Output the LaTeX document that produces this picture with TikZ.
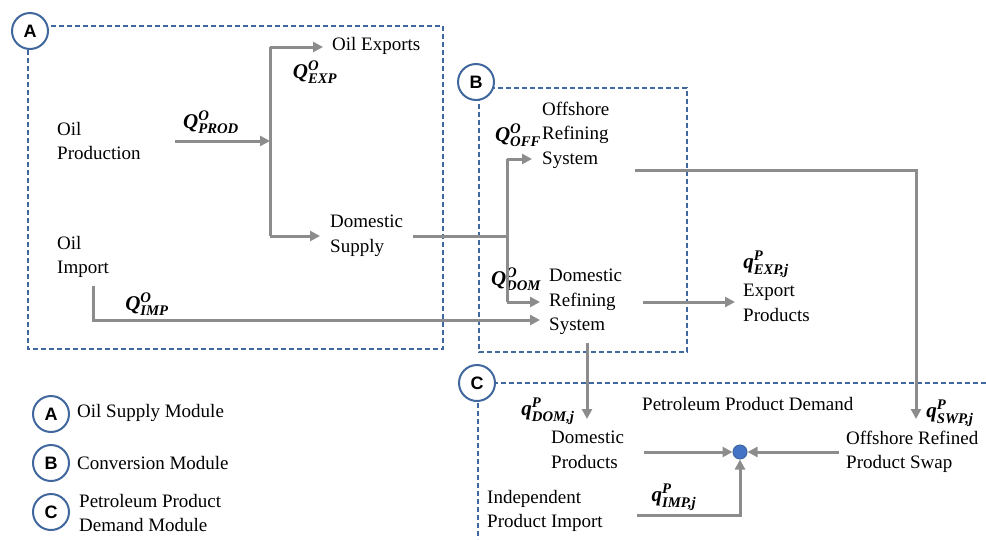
\documentclass[tikz,border=0pt]{standalone}
\usepackage{fontspec}
\usepackage{amsmath}
\setmainfont{Liberation Serif}
\newfontfamily\lettfont{Liberation Sans}
\usetikzlibrary{arrows.meta}
\definecolor{boxblue}{HTML}{41689E}
\definecolor{arrgray}{HTML}{8C8C8C}
\definecolor{dotblue}{HTML}{4472C4}
\newcommand\bi[1]{\text{\bfseries\itshape #1}}
\newcommand\qq[3]{$\bi{#1}^{\bi{#2}}_{\bi{#3}}$}
\tikzset{
 txt/.style={font=\fontsize{19}{24.5}\selectfont, align=left, anchor=west, inner sep=0pt},
 qlab/.style={font=\fontsize{21}{24}\selectfont, inner sep=0pt},
 arr/.style={draw=arrgray, line width=3pt, -{Triangle[length=10pt,width=10pt]}},
 ln/.style={draw=arrgray, line width=3pt},
 modbox/.style={draw=boxblue, line width=1.5pt, dash pattern=on 5pt off 3pt},
 badge/.style={circle, draw=boxblue, line width=2pt, fill=white, minimum size=36pt, inner sep=0pt, font=\lettfont\bfseries\fontsize{18}{18}\selectfont},
}
\begin{document}
\begin{tikzpicture}[x=1pt,y=-1pt]
\useasboundingbox (0,0) rectangle (986,539);
% module boxes
\draw[modbox] (28,26) rectangle (443,349);
\draw[modbox] (479,88) rectangle (687,352);
\draw[modbox] (986,383) -- (478,383) -- (478,539);
\node[badge] (bA) at (30,31) {A};
\node[badge] (bB) at (476,82) {B};
\node[badge] (bC) at (477,383) {C};
% legend
\node[badge] (lA) at (51,414) {A};
\node[badge] (lB) at (51,463) {B};
\node[badge] (lC) at (51,512) {C};
\node[txt] (tA) at (77,413) {Oil Supply Module};
\node[txt] (tB) at (77,463) {Conversion Module};
\node[txt] (tC) at (79,513) {Petroleum Product\\Demand Module};
% text nodes
\node[txt] (prod) at (57,141) {Oil\\Production};
\node[txt] (exports) at (332,46) {Oil Exports};
\node[txt] (supply) at (330,236) {Domestic\\Supply};
\node[txt] (import) at (57,257) {Oil\\Import};
\node[txt] (offref) at (542,135) {Offshore\\Refining\\System};
\node[txt] (domref) at (549,302) {Domestic\\Refining\\System};
\node[txt] (expprod) at (743,303) {Export\\Products};
\node[txt] (petdem) at (642,404) {Petroleum Product Demand};
\node[txt] (domprod) at (551,450) {Domestic\\Products};
\node[txt] (swap) at (846,452) {Offshore Refined\\Product Swap};
\node[txt] (indimp) at (487,511) {Independent\\Product Import};
% flow labels
\node[qlab] (qprod) at (211,122) {\qq{Q}{O}{PROD}};
\node[qlab] (qexp) at (315,72) {\qq{Q}{O}{EXP}};
\node[qlab] (qimp) at (147,304) {\qq{Q}{O}{IMP}};
\node[qlab] (qoff) at (518,135) {\qq{Q}{O}{OFF}};
\node[qlab] (qdom) at (516,279) {\qq{Q}{O}{DOM}};
\node[qlab] (qexpj) at (766,264) {\qq{q}{P}{EXP,j}};
\node[qlab] (qdomj) at (548,411) {\qq{q}{P}{DOM,j}};
\node[qlab] (qswpj) at (950,413) {\qq{q}{P}{SWP,j}};
\node[qlab] (qimpj) at (674,497) {\qq{q}{P}{IMP,j}};
% junction dot
\node[circle, fill=dotblue, draw=boxblue, line width=1pt, minimum size=14pt, inner sep=0pt] (dot) at (740,452) {};
% coordinates
\coordinate (p1) at (175,141);
\coordinate (j1) at (270,141);
\coordinate (jt) at (270,47);
\coordinate (jb) at (270,236);
\coordinate (ex) at (323,47);
\coordinate (ds) at (320,236);
\coordinate (s1) at (413,236);
\coordinate (s2) at (507,236);
\coordinate (s3) at (507,159);
\coordinate (s4) at (532,159);
\coordinate (s5) at (507,302);
\coordinate (s6) at (540,302);
\coordinate (i1) at (93,286);
\coordinate (i2) at (93,320);
\coordinate (i3) at (540,320);
\coordinate (o1) at (635,170);
\coordinate (o2) at (916,170);
\coordinate (o3) at (916,419);
\coordinate (d1) at (643,302);
\coordinate (d2) at (735,302);
\coordinate (d3) at (587,343);
\coordinate (d4) at (587,419);
\coordinate (c1) at (644,452);
\coordinate (c2) at (839,452);
\coordinate (c3) at (637,515);
\coordinate (c4) at (740,515);
% connectors
\draw[arr] (p1) -- (j1);
\draw[ln] (jb) -- (jt);
\draw[arr] (jt) -- (ex);
\draw[arr] (jb) -- (ds);
\draw[ln] (s1) -- (s2);
\draw[ln] (s3) -- (s5);
\draw[arr] (s3) -- (s4);
\draw[arr] (s5) -- (s6);
\draw[arr] (i1) -- (i2) -- (i3);
\draw[arr] (o1) -- (o2) -- (o3);
\draw[arr] (d1) -- (d2);
\draw[arr] (d3) -- (d4);
\draw[arr] (c1) -- (dot);
\draw[arr] (c2) -- (dot);
\draw[arr] (c3) -- (c4) -- (dot);
\end{tikzpicture}
\end{document}
